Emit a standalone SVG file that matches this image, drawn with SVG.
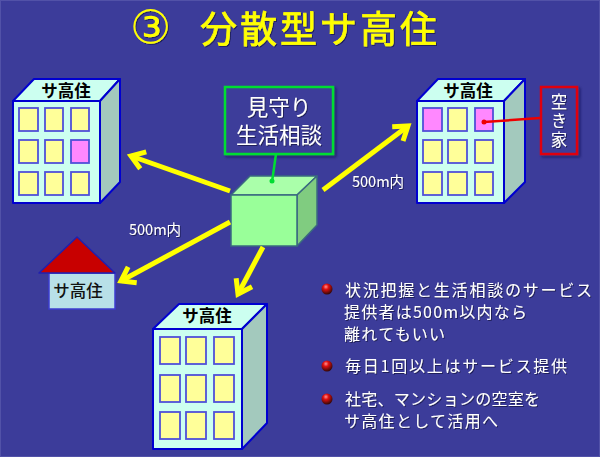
<svg xmlns="http://www.w3.org/2000/svg" width="600" height="457" viewBox="0 0 600 457">
<style>
text{font-family:"Noto Sans CJK JP","Liberation Sans",sans-serif}
.wt{fill:#fff;filter:url(#ts)}
.b{fill:#fff;font-size:16px;filter:url(#ts)}
.lab{fill:#000;font-weight:700;font-size:16.5px;text-anchor:middle}
.front{fill:#ccfff0;stroke:#0000d0;stroke-width:2;stroke-linejoin:round}
.side{fill:#a3c9bd;stroke:#0000d0;stroke-width:2;stroke-linejoin:round}
.win{fill:#ffff99;stroke:#5050d8;stroke-width:1.8}
.pink{fill:#ff88ff;stroke:#5050d8;stroke-width:1.8}
.arr{stroke:#ff0;stroke-width:5;fill:none;marker-end:url(#ah)}
</style>
<defs>
<filter id="ts" x="-10%" y="-10%" width="125%" height="125%"><feDropShadow dx="1" dy="1" stdDeviation="0.7" flood-color="#14144a" flood-opacity="0.8"/></filter>
<filter id="bs" x="-10%" y="-10%" width="125%" height="125%"><feDropShadow dx="2" dy="2" stdDeviation="1.5" flood-color="#14144a" flood-opacity="0.6"/></filter>
<marker id="ah" markerUnits="userSpaceOnUse" markerWidth="24" markerHeight="24" refX="18" refY="12" orient="auto"><path d="M5 3 L18 12 L5 21" fill="none" stroke="#ff0" stroke-width="5" stroke-linejoin="miter"/></marker>
<radialGradient id="ball" cx="0.4" cy="0.3" r="0.7"><stop offset="0" stop-color="#ff9090"/><stop offset="0.35" stop-color="#e01010"/><stop offset="1" stop-color="#300808"/></radialGradient>
</defs>
<rect width="600" height="457" fill="#3c3c9a"/>
<rect x="0.5" y="0.5" width="599" height="456" fill="none" stroke="#5252a8"/>
<g id="title" fill="#ff0" stroke="#ff0" stroke-width="0.7" filter="url(#ts)">
<text x="130" y="43" font-size="46" stroke-width="0" style="font-family:'DejaVu Sans','Noto Sans CJK JP',sans-serif">③</text>
<text x="200" y="43" font-size="37" letter-spacing="3">分散型サ高住</text>
</g>
<g id="building-left">
<path class="front" d="M13 101 L34 79 L120 79 L100 101 Z"/>
<path class="side" d="M100 101 L120 79 L120 182 L100 203 Z"/>
<rect class="front" x="13" y="101" width="87" height="102"/>
<text class="lab" x="66" y="97">サ高住</text>
<g class="win"><rect x="19" y="108" width="19" height="23"/><rect x="45" y="108" width="18" height="23"/><rect x="71" y="108" width="18" height="23"/><rect x="19" y="140" width="19" height="23"/><rect x="45" y="140" width="18" height="23"/><rect x="19" y="172" width="19" height="23"/><rect x="45" y="172" width="18" height="23"/><rect x="71" y="172" width="18" height="23"/></g>
<rect class="pink" x="71" y="140" width="18" height="23"/>
</g>
<g id="building-right">
<path class="front" d="M417 101 L438 79 L525 79 L504 101 Z"/>
<path class="side" d="M504 101 L525 79 L525 182 L504 203 Z"/>
<rect class="front" x="417" y="101" width="87" height="102"/>
<text class="lab" x="468" y="97">サ高住</text>
<g class="win"><rect x="448" y="108" width="19" height="23"/><rect x="423" y="140" width="19" height="23"/><rect x="448" y="140" width="19" height="23"/><rect x="475" y="140" width="18" height="23"/><rect x="423" y="172" width="19" height="23"/><rect x="448" y="172" width="19" height="23"/><rect x="475" y="172" width="18" height="23"/></g>
<rect class="pink" x="423" y="108" width="19" height="23"/>
<rect class="pink" x="475" y="108" width="18" height="23"/>
</g>
<g id="building-bottom">
<path class="front" d="M153 329 L179 304 L267 304 L242 329 Z"/>
<path class="side" d="M242 329 L267 304 L267 423 L242 449 Z"/>
<rect class="front" x="153" y="329" width="89" height="120"/>
<text class="lab" x="207" y="322">サ高住</text>
<g class="win"><rect x="160" y="337" width="20" height="27"/><rect x="186" y="337" width="20" height="27"/><rect x="214" y="337" width="20" height="27"/><rect x="160" y="375" width="20" height="27"/><rect x="186" y="375" width="20" height="27"/><rect x="214" y="375" width="20" height="27"/><rect x="160" y="412" width="20" height="27"/><rect x="186" y="412" width="20" height="27"/><rect x="214" y="412" width="20" height="27"/></g>
</g>
<g id="house">
<rect x="49" y="273" width="66" height="36" fill="#b8e0e8" stroke="#3c3cd0" stroke-width="1.5"/>
<path d="M39 273 L77 237 L115 273 Z" fill="#c80000" stroke="#2020b0" stroke-width="1.5" stroke-linejoin="round"/>
<text x="78" y="297" font-size="16.5" fill="#111" text-anchor="middle" font-weight="500">サ高住</text>
</g>
<g id="cube">
<path d="M231 195 L250 176 L317 176 L297 195 Z" fill="#aaffaa" stroke="#3a6a80" stroke-width="1.5" stroke-linejoin="round"/>
<path d="M297 195 L317 176 L317 225 L297 246 Z" fill="#80cc80" stroke="#3a6a80" stroke-width="1.5" stroke-linejoin="round"/>
<rect x="231" y="195" width="66" height="51" fill="#99ff99" stroke="#3a6a80" stroke-width="1.5"/>
</g>
<g id="watch-box">
<rect x="225" y="87" width="108" height="67" fill="#3c3c9a" stroke="#00dd33" stroke-width="2.5" filter="url(#bs)"/>
<text class="wt" x="279" y="115" font-size="21.5" text-anchor="middle">見守り</text>
<text class="wt" x="279" y="143" font-size="21.5" text-anchor="middle">生活相談</text>
</g>
<g id="vacant-box">
<rect x="541" y="87" width="36" height="67" fill="#3c3c9a" stroke="#e00010" stroke-width="2.5" filter="url(#bs)"/>
<text class="wt" x="559" y="93" font-size="16.5" letter-spacing="2.5" style="writing-mode:vertical-rl">空き家</text>
</g>
<g id="connectors">
<path class="arr" d="M230 191 L131 156"/>
<path class="arr" d="M230 222 L121 281"/>
<path class="arr" d="M263 247 L238 294"/>
<path class="arr" d="M323 190 L408 126"/>
<path d="M276 154 L272 182" stroke="#00dd33" stroke-width="2.5" fill="none"/>
<circle cx="272" cy="181" r="2.5" fill="#00dd33"/>
<path d="M484 122 L540 118" stroke="#ee0000" stroke-width="2.5" fill="none"/>
<circle cx="484" cy="122" r="2.5" fill="#ee0000"/>
</g>
<g id="labels">
<text class="wt" x="129" y="235" font-size="14.5">500m内</text>
<text class="wt" x="352" y="187" font-size="14.5">500m内</text>
</g>
<g id="bullets">
<circle cx="327" cy="289" r="5.5" fill="url(#ball)"/>
<circle cx="327" cy="366" r="5.5" fill="url(#ball)"/>
<circle cx="327" cy="399" r="5.5" fill="url(#ball)"/>
<text class="b" x="345" y="295.5" textLength="247">状況把握と生活相談のサービス</text>
<text class="b" x="344" y="317.5" textLength="183">提供者は500m以内なら</text>
<text class="b" x="344" y="339.5" textLength="101">離れてもいい</text>
<text class="b" x="345" y="372" textLength="222">毎日1回以上はサービス提供</text>
<text class="b" x="345" y="405" textLength="195">社宅、マンションの空室を</text>
<text class="b" x="344" y="427" textLength="154">サ高住として活用へ</text>
</g>
</svg>
